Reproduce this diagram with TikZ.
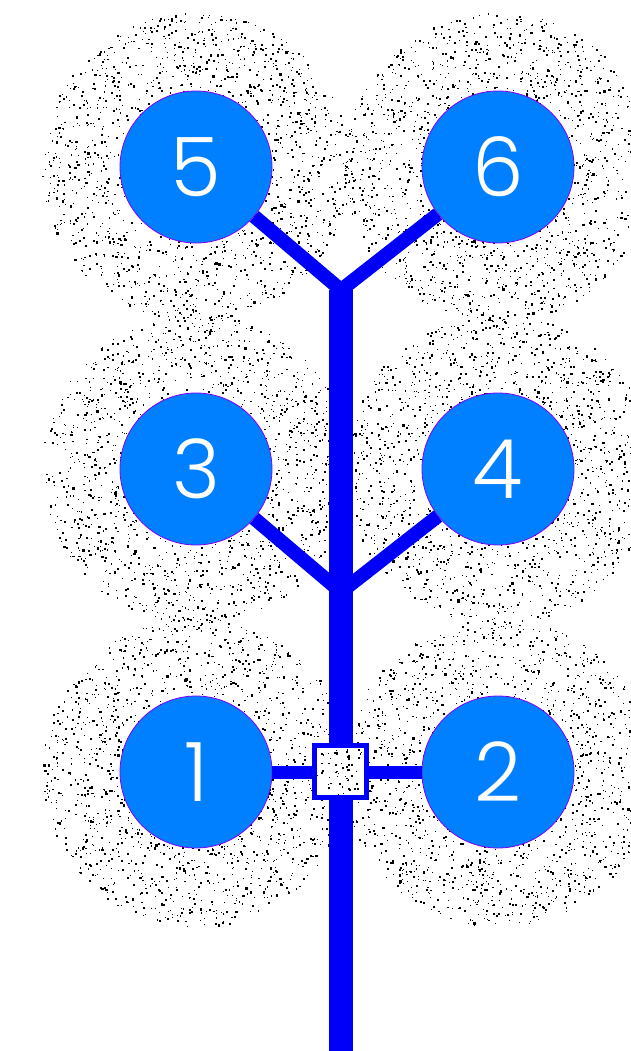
\documentclass[tikz,border=0pt]{standalone}
\usepackage{fontspec}
\IfFontExistsTF{Poppins Light}{\newfontfamily\digitfont{Poppins Light}}{\newfontfamily\digitfont{Poppins}}
\definecolor{numblue}{RGB}{0,128,255}
\definecolor{lineblue}{RGB}{0,0,250}
\definecolor{violetedge}{RGB}{128,0,255}
\begin{document}
\begin{tikzpicture}[x=1pt,y=-1pt,
  numcircle/.style={circle, fill=numblue, draw=violetedge, line width=0.8pt, minimum size=152pt, inner sep=0pt, text=white, font=\digitfont\fontsize{82}{82}\selectfont},
  trunk/.style={draw=lineblue, line width=24pt},
  branch/.style={draw=lineblue, line width=14pt},
  stub/.style={draw=lineblue, line width=13pt},
  hub/.style={rectangle, draw=lineblue, line width=5pt, minimum size=52pt, inner sep=0pt},
  speck/.style={fill=black}]
\useasboundingbox (0,0) rectangle (631,1051);
\pgfmathsetseed{4711}
% stippled halos
\foreach \cx/\cy in {196/167,498/167,196/469,498/469,196/772,498/772}{
  \foreach \i in {1,...,1400}{
    \pgfmathsetmacro\ang{360*rnd}
    \pgfmathsetmacro\rad{10*sqrt(49+rnd*190)}
    \pgfmathsetmacro\sz{0.6+1.7*rnd}
    \fill[speck] ({\cx+\rad*cos(\ang)},{\cy+\rad*sin(\ang)}) rectangle +(\sz,\sz);
  }
}
% numbered circles
\node[numcircle] (c5) at (196,167) {5};
\node[numcircle] (c6) at (498,167) {6};
\node[numcircle] (c3) at (196,469) {3};
\node[numcircle] (c4) at (498,469) {4};
\node[numcircle] (c1) at (196,772) {1};
\node[numcircle] (c2) at (498,772) {2};
% hub square
\node[hub] (hub) at (340,771) {};
\coordinate (j2) at (341,290);
\coordinate (j1) at (341,592);
\coordinate (bot) at (341,1051);
% trunk
\draw[trunk] (j2) -- (j2 |- hub.north);
\draw[trunk] (j2 |- hub.south) -- (bot);
% branches
\draw[branch] (j2) -- (c5);
\draw[branch] (j2) -- (c6);
\draw[branch] (j1) -- (c3);
\draw[branch] (j1) -- (c4);
% stubs
\draw[stub] (c1.east) -- (c1.east -| hub.west);
\draw[stub] (hub.east |- c2.west) -- (c2.west);
\end{tikzpicture}
\end{document}
